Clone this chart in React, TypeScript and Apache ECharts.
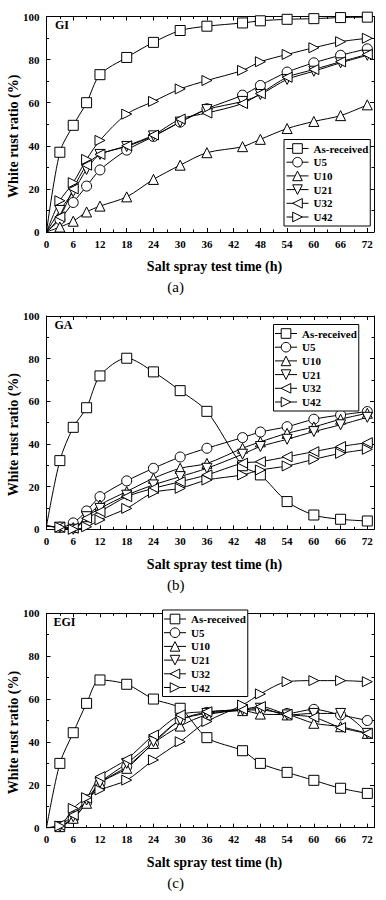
import { useEffect, useRef } from 'react';
import * as echarts from 'echarts';

// ---------- data ----------
const TIME = [0, 3, 6, 9, 12, 18, 24, 30, 36, 44, 48, 54, 60, 66, 72];
const SERIES_NAMES = ['As-received', 'U5', 'U10', 'U21', 'U32', 'U42'];
const X_TICKS = [0, 6, 12, 18, 24, 30, 36, 42, 48, 54, 60, 66, 72];
const Y_TICKS = [0, 20, 40, 60, 80, 100];

// (a) GI
const GI_AS = [0, 37, 49.5, 60, 73, 81, 88, 93.5, 95.5, 97, 98, 98.7, 99, 99.5, 99.7];
const GI_U5 = [0, 5.8, 13.7, 21.3, 28.8, 38, 44.3, 51, 57.2, 63.5, 68, 74.2, 78.5, 82, 85];
const GI_U10 = [0, 2.3, 5, 9.3, 12, 16.3, 24.4, 31, 36.8, 39.6, 43, 48, 51.3, 54, 59];
const GI_U21 = [0, 10, 18.7, 29, 36, 39.7, 44.6, 51, 56.8, 60.6, 63.8, 70.8, 74.6, 78.5, 82];
const GI_U32 = [0, 7, 20, 31, 36, 40, 45, 52.4, 55.2, 59.6, 64.2, 71.8, 75.4, 79, 82.4];
const GI_U42 = [0, 14.5, 22.9, 33.7, 42.5, 54.7, 60.6, 66.4, 70.3, 75, 79, 82.4, 85.5, 88.3, 89.9];

// (b) GA
const GA_AS = [1.5, 32.2, 47.8, 57, 71.9, 80.2, 73.8, 65, 55.3, 29.8, 25.5, 13, 6.7, 4.7, 3.9];
const GA_U5 = [1.5, 1, 3, 8.6, 15.3, 22.7, 28.6, 33.9, 38, 43, 45.6, 48.1, 51.6, 53.6, 55.2];
const GA_U10 = [1.5, 1, 0.8, 5.9, 11.4, 17.7, 23.9, 28.6, 30.9, 38, 41, 45, 48, 51.6, 54.4];
const GA_U21 = [1.5, 1, 0, 5.9, 9.8, 16, 20.8, 24.7, 28.6, 35.2, 38.8, 42.2, 45.8, 49, 52.5];
const GA_U32 = [1.5, 1, 0.5, 5.2, 8.3, 15.3, 19.2, 22.3, 25.5, 31, 31.7, 34, 36.4, 38.8, 40.6];
const GA_U42 = [1.5, 1, 0, 1.2, 4.4, 9.8, 17.2, 19.2, 23.1, 25.5, 27.8, 29.7, 32.8, 35.6, 37.5];

// (c) EGI
const EGI_AS = [0, 30, 44.3, 58, 68.9, 66.9, 60, 55.7, 42, 35.9, 30, 25.8, 22.1, 18.4, 16];
const EGI_U5 = [0, 0.5, 4.4, 11.8, 20.7, 28.5, 39.3, 50.2, 53.8, 54.9, 54.9, 53.3, 55.2, 52.6, 50];
const EGI_U10 = [0, 0.5, 4.4, 11.4, 20.7, 27.7, 39.3, 47.4, 52.6, 54.6, 53, 52.6, 48.7, 47.1, 44];
const EGI_U21 = [0, 0.5, 5.1, 12.9, 21, 30, 40.1, 50.2, 53.3, 54.9, 55.7, 52.6, 53.3, 53.3, 44];
const EGI_U32 = [0, 1.2, 5.9, 13.7, 23.8, 31.9, 43.2, 52.6, 54.1, 55.2, 56.5, 52.9, 51.5, 46.7, 44];
const EGI_U42 = [0, 0.8, 9, 14, 17.6, 22.2, 31.6, 40.1, 49.5, 57.2, 62.4, 68.1, 68.6, 68.6, 68.1];

// ---------- styling ----------
const FONT = "'Liberation Serif', 'Times New Roman', serif";
const SYMBOLS = [
  'rect',
  'circle',
  'path://M5,0 L10,10 L0,10 Z',
  'path://M0,0 L10,0 L5,10 Z',
  'path://M10,0 L10,10 L0,5 Z',
  'path://M0,0 L10,5 L0,10 Z',
];

const PANELS = [
  {
    top: 16.5, height: 215.5, tag: 'GI', tagX: 55, tagY: 24.5, sub: '(a)',
    data: [GI_AS, GI_U5, GI_U10, GI_U21, GI_U32, GI_U42],
    legend: { left: 284, top: 139.5, padLeft: 2 },
  },
  {
    top: 316, height: 213.3, tag: 'GA', tagX: 54.5, tagY: 324.5, sub: '(b)',
    data: [GA_AS, GA_U5, GA_U10, GA_U21, GA_U32, GA_U42],
    legend: { left: 273.5, top: 324.5, padLeft: 1 },
  },
  {
    top: 613.3, height: 214.4, tag: 'EGI', tagX: 53.5, tagY: 622, sub: '(c)',
    data: [EGI_AS, EGI_U5, EGI_U10, EGI_U21, EGI_U32, EGI_U42],
    legend: { left: 162.5, top: 610, padLeft: 1 },
  },
];

const GRID_LEFT = 46.5;
const GRID_WIDTH = 327.5;
const X_MAX = 73.5;

const labelStyle = {
  color: '#000',
  fontFamily: FONT,
  fontWeight: 'bold' as const,
  fontSize: 11,
};

function buildOption() {
  const grid: any[] = [];
  const xAxis: any[] = [];
  const yAxis: any[] = [];
  const series: any[] = [];
  const legend: any[] = [];
  const graphic: any[] = [];

  PANELS.forEach((p, i) => {
    grid.push({ left: GRID_LEFT, top: p.top, width: GRID_WIDTH, height: p.height, containLabel: false });
    const commonX = {
      gridIndex: i,
      type: 'value',
      min: 0,
      max: X_MAX,
      interval: 6,
      axisLine: { show: true, onZero: false, lineStyle: { color: '#000', width: 1 } },
      axisTick: { show: true, inside: true, length: 4, lineStyle: { color: '#000', width: 1 } },
      minorTick: { show: true, splitNumber: 2, length: 2.5, lineStyle: { color: '#000', width: 1 } },
      splitLine: { show: false },
      minorSplitLine: { show: false },
    };
    xAxis.push({
      ...commonX,
      position: 'bottom',
      axisLabel: {
        ...labelStyle,
        margin: 6,
        showMaxLabel: false,
        formatter: (v: number) => (X_TICKS.indexOf(v) >= 0 ? String(v) : ''),
      },
    });
    xAxis.push({ ...commonX, position: 'top', axisLabel: { show: false } });

    const commonY = {
      gridIndex: i,
      type: 'value',
      min: 0,
      max: 100,
      interval: 20,
      axisLine: { show: true, onZero: false, lineStyle: { color: '#000', width: 1 } },
      axisTick: { show: true, inside: true, length: 4, lineStyle: { color: '#000', width: 1 } },
      minorTick: { show: true, splitNumber: 2, length: 2.5, lineStyle: { color: '#000', width: 1 } },
      splitLine: { show: false },
      minorSplitLine: { show: false },
    };
    yAxis.push({
      ...commonY,
      position: 'left',
      axisLabel: {
        ...labelStyle,
        margin: 7,
        formatter: (v: number) => (Y_TICKS.indexOf(v) >= 0 ? String(v) : ''),
      },
    });
    yAxis.push({ ...commonY, position: 'right', axisLabel: { show: false } });

    SERIES_NAMES.forEach((name, s) => {
      const vals = p.data[s];
      series.push({
        type: 'line',
        name,
        xAxisIndex: 2 * i,
        yAxisIndex: 2 * i,
        smooth: 0.3,
        symbol: SYMBOLS[s],
        symbolSize: 10,
        showSymbol: true,
        showAllSymbol: true,
        lineStyle: { color: '#000', width: 1 },
        itemStyle: { color: '#fff', borderColor: '#000', borderWidth: 1 },
        emphasis: { disabled: true },
        data: TIME.map((t, k) =>
          k === 0 ? { value: [t, vals[k]], symbol: 'none' } : [t, vals[k]]
        ),
      });
    });

    legend.push({
      orient: 'vertical',
      left: p.legend.left,
      top: p.legend.top,
      data: SERIES_NAMES,
      itemWidth: 22,
      itemHeight: 12,
      itemGap: 1.7,
      padding: [3, 2, 3, p.legend.padLeft],
      borderColor: '#000',
      borderWidth: 1,
      borderRadius: 0,
      backgroundColor: '#fff',
      selectedMode: false,
      itemStyle: { color: '#fff', borderColor: '#000', borderWidth: 1 },
      lineStyle: { color: '#000', width: 1 },
      textStyle: { ...labelStyle, fontSize: 11, lineHeight: 12 },
    });

    const plotMid = p.top + p.height / 2;
    const bottom = p.top + p.height;
    graphic.push(
      {
        type: 'text',
        left: p.tagX,
        top: p.tagY - 6,
        style: { text: p.tag, fill: '#000', font: `bold 12px ${FONT}` },
      },
      {
        type: 'text',
        x: 214.5,
        y: bottom + 34.7,
        style: {
          text: 'Salt spray test time (h)',
          fill: '#000',
          font: `bold 14px ${FONT}`,
          align: 'center',
          verticalAlign: 'middle',
        },
      },
      {
        type: 'text',
        x: 13,
        y: plotMid + 12,
        rotation: Math.PI / 2,
        style: {
          text: 'White rust ratio (%)',
          fill: '#000',
          font: `bold 14px ${FONT}`,
          align: 'center',
          verticalAlign: 'middle',
        },
      },
      {
        type: 'text',
        x: 175.7,
        y: bottom + 55.3,
        style: {
          text: p.sub,
          fill: '#000',
          font: `15px ${FONT}`,
          align: 'center',
          verticalAlign: 'middle',
        },
      }
    );
  });

  return {
    animation: false,
    backgroundColor: '#fff',
    grid,
    xAxis,
    yAxis,
    legend,
    series,
    graphic,
  };
}

export default function App() {
  const ref = useRef<HTMLDivElement>(null);
  useEffect(() => {
    if (!ref.current) return;
    const chart = echarts.init(ref.current, null, { renderer: 'svg' });
    chart.setOption(buildOption() as any);
    return () => chart.dispose();
  }, []);
  return (
    <div
      ref={ref}
      style={{ position: 'absolute', left: 0, top: 0, width: 386, height: 900, background: '#fff' }}
    />
  );
}
